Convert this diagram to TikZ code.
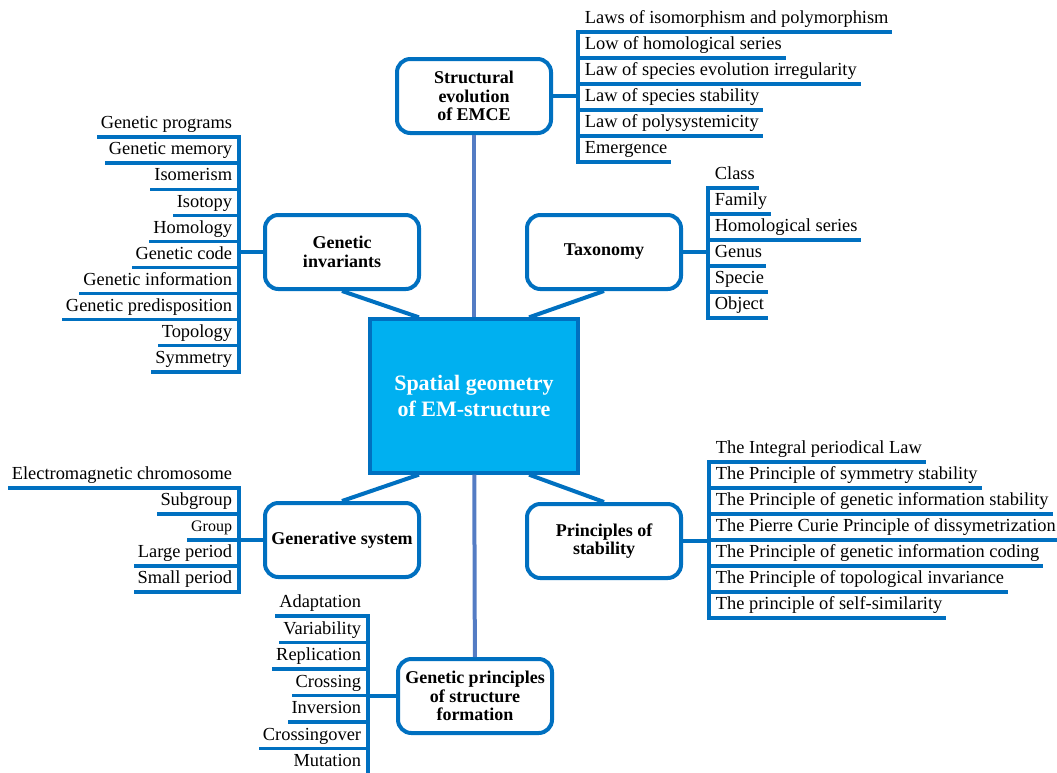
\documentclass[tikz,border=0pt]{standalone}
\usepackage{fontspec}
\setmainfont{Liberation Serif}
\definecolor{boxblue}{RGB}{0,112,192}
\definecolor{hubfill}{RGB}{0,176,240}
\definecolor{linkblue}{RGB}{84,124,196}
\tikzset{
  hub/.style={draw=boxblue, line width=3pt, fill=hubfill, text=white, align=center,
    font=\fontsize{16.5}{19}\selectfont\bfseries, minimum width=156pt, minimum height=115pt},
  topic/.style={draw=boxblue, line width=3pt, fill=white, rounded corners=10pt, align=center,
    font=\fontsize{13.5}{14}\selectfont\bfseries, minimum width=115.5pt, minimum height=55.5pt, inner sep=2pt},
  leaf/.style={inner xsep=1.5pt, inner ysep=3.5pt, text depth=0.25em, font=\fontsize{13.8}{16}\selectfont},
  leafR/.style={leaf, anchor=south west, xshift=3.5pt},
  leafL/.style={leaf, anchor=south east, xshift=-3.5pt},
  rail/.style={draw=boxblue, line width=2.5pt, line cap=rect},
  spoke/.style={draw=boxblue, line width=3pt},
  link/.style={draw=linkblue, line width=3pt},
}

\begin{document}
\begin{tikzpicture}[x=0.75pt, y=-0.75pt]
    \useasboundingbox (0,0) rectangle (1057,772);
    \node[hub] (hub) at (474,396) {Spatial geometry\\of EM-structure};
    \node[topic] (evo) at (474,96) {Structural\\evolution\\of EMCE};
    \node[topic] (inv) at (342,252) {Genetic\\invariants};
    \node[topic] (tax) at (604,252) {Taxonomy};
    \node[topic] (gen) at (342,540) {Generative system};
    \node[topic] (stab) at (604,541) {Principles of\\stability};
    \node[topic] (form) at (475,696) {Genetic principles\\of structure\\formation};
    \draw[link] (evo) -- (hub);
    \draw[link] (hub) -- (form);
    \draw[spoke] (inv.south) -- (hub.125);
    \draw[spoke] (tax.south) -- (hub.55);
    \draw[spoke] (gen.north) -- (hub.235);
    \draw[spoke] (stab.north) -- (hub.305);

    \coordinate (evobar) at (578,32);
    \foreach \txt [count=\i, evaluate=\i as \yy using 32+26*(\i-1)] in {Laws of isomorphism and polymorphism,
      Low of homological series, Law of species evolution irregularity, Law of species stability,
      Law of polysystemicity, Emergence} {
      \node[leafR] (evo\i) at (578,\yy) {\txt};
      \draw[rail] (evo\i.south east) -- (evo\i.south east -| evobar);
    }
    \draw[rail] (evobar) -- (evobar |- evo6.south);
    \draw[rail] (evo.east) -- (evo.east -| evobar);

    \coordinate (invbar) at (239,137);
    \foreach \txt [count=\i, evaluate=\i as \yy using 137+26.1*(\i-1)] in {Genetic programs, Genetic memory,
      Isomerism, Isotopy, Homology, Genetic code, Genetic information, Genetic predisposition,
      Topology, Symmetry} {
      \node[leafL] (inv\i) at (239,\yy) {\txt};
      \draw[rail] (inv\i.south west) -- (inv\i.south west -| invbar);
    }
    \draw[rail] (invbar) -- (invbar |- inv10.south);
    \draw[rail] (inv.west) -- (inv.west -| invbar);

    \coordinate (taxbar) at (708,188);
    \foreach \txt [count=\i, evaluate=\i as \yy using 188+26*(\i-1)] in {Class, Family,
      Homological series, Genus, Specie, Object} {
      \node[leafR] (tax\i) at (708,\yy) {\txt};
      \draw[rail] (tax\i.south east) -- (tax\i.south east -| taxbar);
    }
    \draw[rail] (taxbar) -- (taxbar |- tax6.south);
    \draw[rail] (tax.east) -- (tax.east -| taxbar);

    \coordinate (genbar) at (239,488);
    \foreach \txt [count=\i, evaluate=\i as \yy using 488+26*(\i-1)] in {Electromagnetic chromosome,
      Subgroup, {\fontsize{12}{14}\selectfont Group}, Large period, Small period} {
      \node[leafL] (gen\i) at (239,\yy) {\txt};
      \draw[rail] (gen\i.south west) -- (gen\i.south west -| genbar);
    }
    \draw[rail] (genbar) -- (genbar |- gen5.south);
    \draw[rail] (gen.west) -- (gen.west -| genbar);

    \coordinate (stabbar) at (709,462);
    \foreach \txt [count=\i, evaluate=\i as \yy using 462+26*(\i-1)] in {The Integral periodical Law,
      The Principle of symmetry stability, The Principle of genetic information stability,
      The Pierre Curie Principle of dissymetrization, The Principle of genetic information coding,
      The Principle of topological invariance, The principle of self-similarity} {
      \node[leafR] (stab\i) at (709,\yy) {\txt};
      \draw[rail] (stab\i.south east) -- (stab\i.south east -| stabbar);
    }
    \draw[rail] (stabbar) -- (stabbar |- stab7.south);
    \draw[rail] (stab.east) -- (stab.east -| stabbar);

    \coordinate (formbar) at (368,616);
    \foreach \txt [count=\i, evaluate=\i as \yy using 616+26.5*(\i-1)] in {Adaptation, Variability,
      Replication, Crossing, Inversion, Crossingover, Mutation} {
      \node[leafL] (form\i) at (368,\yy) {\txt};
      \draw[rail] (form\i.south west) -- (form\i.south west -| formbar);
    }
    \draw[rail] (formbar) -- (formbar |- form7.south);
    \draw[rail] (form.west) -- (form.west -| formbar);
\end{tikzpicture}
\end{document}
